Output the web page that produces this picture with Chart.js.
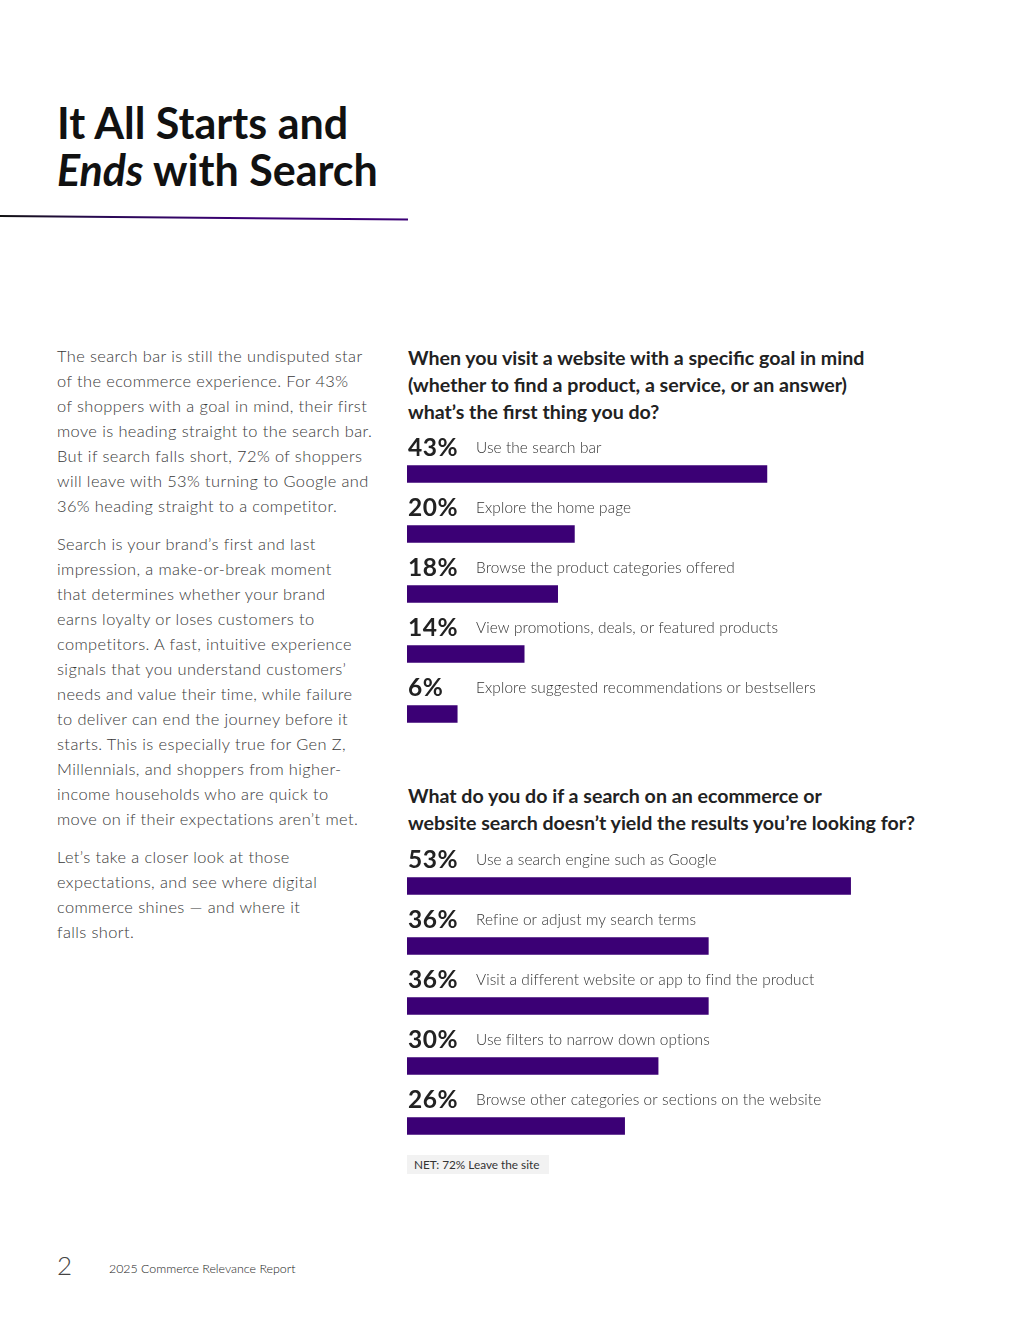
<!DOCTYPE html>
<html>
<head>
<meta charset="utf-8">
<script src="https://cdn.jsdelivr.net/npm/chart.js@4"></script>
<style>
  body { margin: 0; background: #fff; font-family: Lato, "Noto Sans", sans-serif; }
  .page { position: relative; width: 1020px; height: 1320px; overflow: hidden; }
  .titulo { position: absolute; left: 57px; top: 99px; font-size: 43px; line-height: 47px; font-weight: 700; color: #111; letter-spacing: 0px; }
  .regla { position: absolute; left: 0; top: 215px; width: 408px; height: 2px;
    background: linear-gradient(to right, #111 0%, #2a0a55 25%, #3b0075 60%, #3b0075 100%); transform: rotate(0.5deg); transform-origin: left; }
  .cuerpo { position: absolute; left: 57px; top: 343px; font-size: 16.4px; line-height: 25px; color: #383838; font-weight: 300; letter-spacing: 0.4px; white-space: nowrap; }
  .cuerpo p { margin: 0 0 13px 0; }
  .pregunta { position: absolute; left: 408px; font-size: 19.6px; line-height: 27px; font-weight: 700; color: #222; white-space: nowrap; }
  canvas { position: absolute; }
  .net { position: absolute; left: 407px; top: 1155px; height: 19px; padding: 0 10px 0 7px; background: #f2f2f2; font-size: 11.8px; line-height: 20px; color: #333; }
  .pag { position: absolute; left: 57px; top: 1249px; font-size: 26px; font-weight: 300; color: #444; }
  .pie { position: absolute; left: 109px; top: 1261px; font-size: 12.4px; font-weight: 300; color: #222; }
</style>
</head>
<body>
<div class="page">
  <div class="titulo">It All Starts and<br><i>Ends</i> with Search</div>
  <div class="regla"></div>
  <div class="cuerpo">
    <p>The search bar is still the undisputed star<br>of the ecommerce experience. For 43%<br>of shoppers with a goal in mind, their first<br>move is heading straight to the search bar.<br>But if search falls short, 72% of shoppers<br>will leave with 53% turning to Google and<br>36% heading straight to a competitor.</p>
    <p>Search is your brand’s first and last<br>impression, a make-or-break moment<br>that determines whether your brand<br>earns loyalty or loses customers to<br>competitors. A fast, intuitive experience<br>signals that you understand customers’<br>needs and value their time, while failure<br>to deliver can end the journey before it<br>starts. This is especially true for Gen Z,<br>Millennials, and shoppers from higher-<br>income households who are quick to<br>move on if their expectations aren’t met.</p>
    <p>Let’s take a closer look at those<br>expectations, and see where digital<br>commerce shines — and where it<br>falls short.</p>
  </div>

  <div class="pregunta" style="top:344px">When you visit a website with a specific goal in mind<br>(whether to find a product, a service, or an answer)<br>what’s the first thing you do?</div>
  <canvas id="grafico1" style="left:407px; top:414px; width:560px; height:340px;"></canvas>

  <div class="pregunta" style="top:782px">What do you do if a search on an ecommerce or<br>website search doesn’t yield the results you’re looking for?</div>
  <canvas id="grafico2" style="left:407px; top:825.5px; width:560px; height:340px;"></canvas>

  <div class="net">NET: 72% Leave the site</div>
  <div class="pag">2</div>
  <div class="pie">2025 Commerce Relevance Report</div>
</div>

<script>
// DATOS
const primerPasoEtiquetas = [
  "Use the search bar",
  "Explore the home page",
  "Browse the product categories offered",
  "View promotions, deals, or featured products",
  "Explore suggested recommendations or bestsellers"
]
const primerPasoValores = [43, 20, 18, 14, 6]

const sinResultadosEtiquetas = [
  "Use a search engine such as Google",
  "Refine or adjust my search terms",
  "Visit a different website or app to find the product",
  "Use filters to narrow down options",
  "Browse other categories or sections on the website"
]
const sinResultadosValores = [53, 36, 36, 30, 26]

const colorBarra = "#3b0075"

// FUNCIONES
const etiquetasBarras = {
  id: "etiquetasBarras",
  afterDatasetsDraw(chart) {
    const ctx = chart.ctx
    const meta = chart.getDatasetMeta(0)
    const etiquetas = chart.data.labels
    const valores = chart.data.datasets[0].data
    ctx.save()
    ctx.textBaseline = "middle"
    meta.data.forEach((barra, i) => {
      const y = barra.y - 26
      ctx.fillStyle = "#222"
      ctx.font = "700 24.5px Lato"
      ctx.letterSpacing = "0.6px"
      ctx.fillText(valores[i] + "%", chart.chartArea.left + 1, y + 0.5)
      ctx.fillStyle = "#333"
      ctx.font = "300 15.4px Lato"
      ctx.letterSpacing = "0.1px"
      ctx.fillText(etiquetas[i], chart.chartArea.left + 69, y)
    })
    ctx.restore()
  }
}

function graficar(etiquetas, valores, idElementoDom) {
  const ctx = document.getElementById(idElementoDom).getContext("2d")
  return new Chart(ctx, {
    type: "bar",
    data: {
      labels: etiquetas,
      datasets: [{
        data: valores,
        backgroundColor: colorBarra,
        barThickness: 17,
        borderWidth: 0
      }]
    },
    options: {
      indexAxis: "y",
      responsive: false,
      animation: false,
      layout: { padding: { top: 30, bottom: 10, left: 0, right: 0 } },
      scales: {
        x: { display: false, min: 0, max: 560 / 8.37 },
        y: { display: false }
      },
      plugins: {
        legend: { display: false },
        tooltip: { enabled: false }
      }
    },
    plugins: [etiquetasBarras]
  })
}

// EJECUCIÓN
document.fonts.load("700 22px Lato").then(() => document.fonts.load("300 15px Lato")).finally(() => {
  graficar(primerPasoEtiquetas, primerPasoValores, "grafico1")
  graficar(sinResultadosEtiquetas, sinResultadosValores, "grafico2")
})
</script>
</body>
</html>
